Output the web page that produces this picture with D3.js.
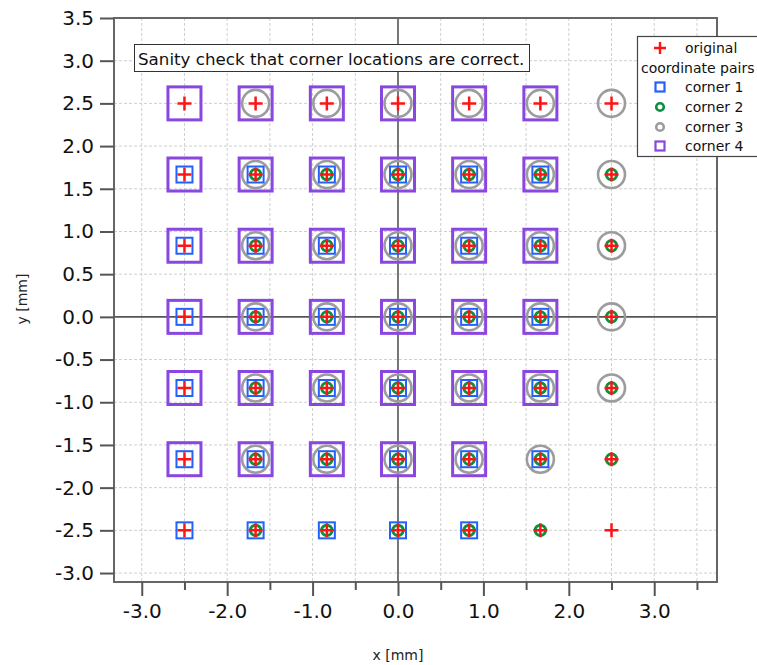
<!DOCTYPE html>
<html>
<head>
<meta charset="utf-8">
<script src="https://cdn.jsdelivr.net/npm/d3@7"></script>
<style>
  body { margin: 0; background: #fff; }
  svg { display: block; font-family: "DejaVu Sans", sans-serif; }
</style>
</head>
<body>
<svg id="chart" width="757" height="665"></svg>
<script>
// grid coordinates of the pairs (mm)
const gridX = [-2.5, -1.667, -0.833, 0, 0.833, 1.667, 2.5];
const gridY = [2.5, 1.667, 0.833, 0, -0.833, -1.667, -2.5];

// which grid points carry each marker, one string per row (top row first)
const originalMask = ["1111111", "1111111", "1111111", "1111111", "1111111", "1111111", "1111111"];
const corner1Mask = ["0000000", "1111110", "1111110", "1111110", "1111110", "1111110", "1111100"];
const corner2Mask = ["0000000", "0111111", "0111111", "0111111", "0111111", "0111111", "0111110"];
const corner3Mask = ["0111111", "0111111", "0111111", "0111111", "0111111", "0111110", "0000000"];
const corner4Mask = ["1111110", "1111110", "1111110", "1111110", "1111110", "1111100", "0000000"];

const xTicks = [-3, -2, -1, 0, 1, 2, 3];
const xMinorTicks = [-2.5, -1.5, -0.5, 0.5, 1.5, 2.5, 3.5];
const yTicks = [3.5, 3.0, 2.5, 2.0, 1.5, 1.0, 0.5, 0.0, -0.5, -1.0, -1.5, -2.0, -2.5, -3.0];
const gridLinesX = [-3, -2.5, -2, -1.5, -1, -0.5, 0.5, 1, 1.5, 2, 2.5, 3, 3.5];
const gridLinesY = [3, 2.5, 2, 1.5, 1, 0.5, -0.5, -1, -1.5, -2, -2.5, -3];

const legendLabels = ["corner 1", "corner 2", "corner 3", "corner 4"];
const titleText = "Sanity check that corner locations are correct.";

function points(mask) {
  const out = [];
  mask.forEach((row, j) => {
    row.split("").forEach((c, i) => {
      if (c === "1") out.push([gridX[i], gridY[j]]);
    });
  });
  return out;
}

// plain hyphen minus like the original
const fmt = d => d3.format(".1f")(d).replace("\u2212", "-");

const svg = d3.select("#chart");
const plotLeft = 114, plotRight = 717, plotTop = 18, plotBottom = 582;

const x = d3.scaleLinear().domain([-3.325, 3.735]).range([plotLeft, plotRight]);
const y = d3.scaleLinear().domain([-3.105, 3.5]).range([plotBottom, plotTop]);

const colors = {
  original: "#ff1414",
  c1: "#2260ff",
  c2: "#0f8f3e",
  c3: "#9c9c9c",
  c4: "#8a46e0"
};

// grid
const grid = svg.append("g").attr("stroke", "#cfcfcf").attr("stroke-width", 1)
  .attr("stroke-dasharray", "3,2");
grid.selectAll("line.gx").data(gridLinesX).enter().append("line")
  .attr("x1", d => x(d)).attr("x2", d => x(d)).attr("y1", plotTop).attr("y2", plotBottom);
grid.selectAll("line.gy").data(gridLinesY).enter().append("line")
  .attr("y1", d => y(d)).attr("y2", d => y(d)).attr("x1", plotLeft).attr("x2", plotRight);

// zero lines
svg.append("line").attr("x1", x(0)).attr("x2", x(0)).attr("y1", plotTop).attr("y2", plotBottom)
  .attr("stroke", "#555").attr("stroke-width", 1.6);
svg.append("line").attr("x1", plotLeft).attr("x2", plotRight).attr("y1", y(0)).attr("y2", y(0))
  .attr("stroke", "#555").attr("stroke-width", 1.6);

// frame
svg.append("rect").attr("x", plotLeft).attr("y", plotTop)
  .attr("width", plotRight - plotLeft).attr("height", plotBottom - plotTop)
  .attr("fill", "none").attr("stroke", "#666").attr("stroke-width", 2);

// axes
const xAxis = d3.axisBottom(x).tickValues(xTicks).tickFormat(fmt).tickSize(14).tickPadding(8);
const gx = svg.append("g").attr("transform", `translate(0,${plotBottom})`).call(xAxis);
gx.select(".domain").remove();
gx.selectAll("line").attr("stroke", "#555").attr("stroke-width", 2);
gx.selectAll("text").attr("font-size", 20).attr("fill", "#111").attr("font-family", "DejaVu Sans");

const xMinor = d3.axisBottom(x).tickValues(xMinorTicks).tickFormat("").tickSize(8);
const gxm = svg.append("g").attr("transform", `translate(0,${plotBottom})`).call(xMinor);
gxm.select(".domain").remove();
gxm.selectAll("line").attr("stroke", "#555").attr("stroke-width", 2);

const yAxis = d3.axisLeft(y).tickValues(yTicks).tickFormat(fmt).tickSize(14).tickPadding(6);
const gy = svg.append("g").attr("transform", `translate(${plotLeft},0)`).call(yAxis);
gy.select(".domain").remove();
gy.selectAll("line").attr("stroke", "#555").attr("stroke-width", 2);
gy.selectAll("text").attr("font-size", 20).attr("fill", "#111").attr("font-family", "DejaVu Sans");

svg.append("text").attr("x", x(0)).attr("y", 660).attr("text-anchor", "middle")
  .attr("font-size", 14).attr("fill", "#222").text("x [mm]");
svg.append("text").attr("transform", `translate(27,${(plotTop + plotBottom) / 2 - 1}) rotate(-90)`)
  .attr("text-anchor", "middle").attr("font-size", 14).attr("fill", "#222").text("y [mm]");

// markers
function drawSquares(data, side, color, width) {
  svg.append("g").selectAll("rect").data(data).enter().append("rect")
    .attr("x", d => x(d[0]) - side / 2).attr("y", d => y(d[1]) - side / 2)
    .attr("width", side).attr("height", side)
    .attr("fill", "none").attr("stroke", color).attr("stroke-width", width);
}
function drawCircles(data, r, color, width) {
  svg.append("g").selectAll("circle").data(data).enter().append("circle")
    .attr("cx", d => x(d[0])).attr("cy", d => y(d[1])).attr("r", r)
    .attr("fill", "none").attr("stroke", color).attr("stroke-width", width);
}
function drawPluses(data, size, color, width) {
  svg.append("g").selectAll("path").data(data).enter().append("path")
    .attr("d", d => {
      const cx = x(d[0]), cy = y(d[1]), h = size / 2;
      return `M${cx - h},${cy}H${cx + h}M${cx},${cy - h}V${cy + h}`;
    })
    .attr("fill", "none").attr("stroke", color).attr("stroke-width", width);
}

drawSquares(points(corner4Mask), 33, colors.c4, 3);
drawCircles(points(corner3Mask), 13.5, colors.c3, 2.6);
drawSquares(points(corner1Mask), 16, colors.c1, 2);
drawCircles(points(corner2Mask), 5.2, colors.c2, 3);
drawPluses(points(originalMask), 14, colors.original, 2.5);

// title annotation
svg.append("rect").attr("x", 134.5).attr("y", 44.5).attr("width", 395).attr("height", 27)
  .attr("fill", "#fff").attr("stroke", "#333").attr("stroke-width", 1);
svg.append("text").attr("x", 138).attr("y", 64.5).attr("font-size", 16.7).attr("fill", "#111")
  .text(titleText);

// legend
const lg = svg.append("g");
lg.append("rect").attr("x", 637.5).attr("y", 36.5).attr("width", 125).attr("height", 120)
  .attr("fill", "#fff").attr("stroke", "#444").attr("stroke-width", 1.2);
const lx = 660;
lg.append("path").attr("d", `M${lx - 6},48H${lx + 6}M${lx},42V54`)
  .attr("stroke", colors.original).attr("stroke-width", 2.4);
lg.append("text").attr("x", 685).attr("y", 53).attr("font-size", 14).attr("fill", "#111").text("original");
lg.append("text").attr("x", 641).attr("y", 73).attr("font-size", 14).attr("fill", "#111").text("coordinate pairs");

const legendY = [87, 107, 127, 146];
lg.append("rect").attr("x", lx - 4.5).attr("y", legendY[0] - 4.5).attr("width", 9).attr("height", 9)
  .attr("fill", "none").attr("stroke", colors.c1).attr("stroke-width", 2.2);
lg.append("circle").attr("cx", lx).attr("cy", legendY[1]).attr("r", 3.8)
  .attr("fill", "none").attr("stroke", colors.c2).attr("stroke-width", 2.6);
lg.append("circle").attr("cx", lx).attr("cy", legendY[2]).attr("r", 3.8)
  .attr("fill", "none").attr("stroke", colors.c3).attr("stroke-width", 2.6);
lg.append("rect").attr("x", lx - 4.5).attr("y", legendY[3] - 4.5).attr("width", 9).attr("height", 9)
  .attr("fill", "none").attr("stroke", colors.c4).attr("stroke-width", 2.2);
lg.selectAll("text.item").data(legendLabels).enter().append("text")
  .attr("x", 685).attr("y", (d, i) => legendY[i] + 5).attr("font-size", 14).attr("fill", "#111").text(d => d);
</script>
</body>
</html>
